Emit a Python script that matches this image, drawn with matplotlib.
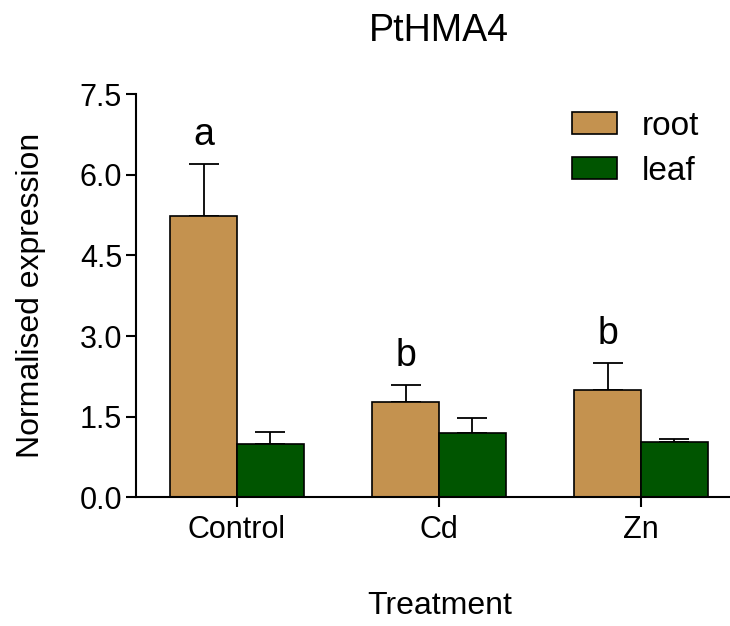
import numpy as np
import matplotlib.pyplot as plt

plt.rcParams['font.family'] = ['Liberation Sans', 'DejaVu Sans']

# data
treatments = ['Control', 'Cd', 'Zn']
root_mean = [5.24, 1.77, 2.00]
root_err = [0.96, 0.32, 0.49]
leaf_mean = [1.00, 1.19, 1.03]
leaf_err = [0.22, 0.29, 0.06]
root_letters = ['a', 'b', 'b']

root_color = '#C4924F'
leaf_color = '#005500'

fig = plt.figure(figsize=(7.30, 6.26), dpi=100)
ax = fig.add_axes([0.1863, 0.2056, 0.830, 0.6438])

x = np.arange(len(treatments))
w = 0.33

ax.bar(x - w / 2, root_mean, w, color=root_color, edgecolor='black',
       linewidth=1.2, label='root', zorder=2)
ax.bar(x + w / 2, leaf_mean, w, color=leaf_color, edgecolor='black',
       linewidth=1.2, label='leaf', zorder=2)

# only the upper half of the error bars
ax.errorbar(x - w / 2, root_mean, yerr=[np.zeros(3), root_err], fmt='none',
            ecolor='black', elinewidth=1.3, capsize=11, capthick=1.3, zorder=1)
ax.errorbar(x + w / 2, leaf_mean, yerr=[np.zeros(3), leaf_err], fmt='none',
            ecolor='black', elinewidth=1.3, capsize=11, capthick=1.3, zorder=1)

# significance letters
for i in range(len(treatments)):
    ax.text(x[i] - w / 2, root_mean[i] + root_err[i] + 0.36, root_letters[i],
            ha='center', va='baseline', fontsize=27)

ax.set_xlim(-0.5, 2.5)
ax.set_ylim(0, 7.5)
ax.set_yticks([0, 1.5, 3.0, 4.5, 6.0, 7.5])
ax.set_yticklabels(['0.0', '1.5', '3.0', '4.5', '6.0', '7.5'])
ax.set_xticks(x)
ax.set_xticklabels(treatments)

for side in ['top', 'right']:
    ax.spines[side].set_visible(False)
for side in ['left', 'bottom']:
    ax.spines[side].set_linewidth(1.5)
ax.tick_params(axis='both', direction='out', length=7, width=1.5,
               labelsize=22)
ax.tick_params(axis='x', pad=6)
ax.tick_params(axis='y', pad=3)

ax.set_ylabel('Normalised expression', fontsize=23)
ax.yaxis.set_label_coords(-0.148, 0.5)
ax.set_xlabel('Treatment', fontsize=23)
ax.xaxis.set_label_coords(0.502, -0.232)
fig.text(0.601, 0.950, 'PtHMA4', ha='center', va='center', fontsize=27)

ax.legend(loc='upper left', bbox_to_anchor=(0.784, 0.823),
          bbox_transform=fig.transFigure, frameon=False, fontsize=24,
          handlelength=1.34, handleheight=0.66, handletextpad=0.73,
          labelspacing=0.42, borderpad=0, borderaxespad=0)

plt.savefig('out.png', dpi=100)
